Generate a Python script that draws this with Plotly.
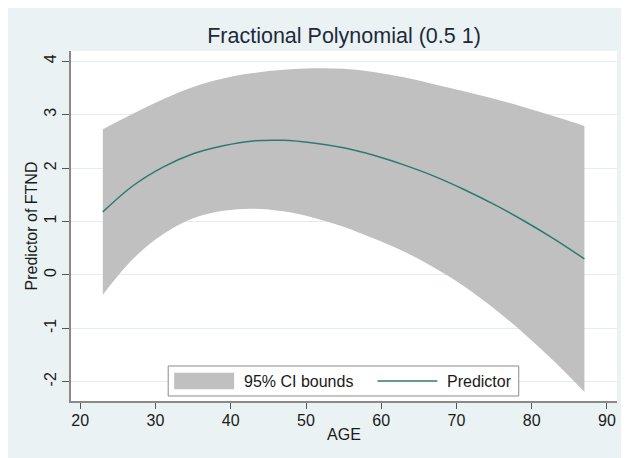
import plotly.graph_objects as go

# Data
age = [23, 27, 31, 35, 39, 43, 47, 51, 55, 59, 63, 67, 71, 75, 79, 83, 87]
predictor = [1.18, 1.67, 2.02, 2.27, 2.42, 2.51, 2.52, 2.47, 2.38, 2.24, 2.06, 1.85, 1.60, 1.32, 1.01, 0.67, 0.30]
ci_upper = [2.73, 3.02, 3.29, 3.52, 3.68, 3.78, 3.84, 3.87, 3.86, 3.80, 3.70, 3.57, 3.44, 3.30, 3.14, 2.97, 2.79]
ci_lower = [-0.37, 0.30, 0.76, 1.06, 1.20, 1.24, 1.19, 1.07, 0.90, 0.68, 0.44, 0.14, -0.21, -0.63, -1.10, -1.62, -2.19]

x_ticks = [20, 30, 40, 50, 60, 70, 80, 90]
y_ticks = [-2, -1, 0, 1, 2, 3, 4]
y_tick_text = ["-2", "-1", "0", "1", "2", "3", "4"]

BG = "#EAF2F3"
GRID = "#E3EDEF"
BAND = "#C0C0C0"
LINE = "#2E7A6E"
AXIS = "#8a8a8a"
FONT = "Liberation Sans, Arial, sans-serif"

fig = go.Figure()
fig.add_trace(go.Scatter(x=age, y=ci_lower, mode="lines",
                         line=dict(width=0, color=BAND, shape="spline", smoothing=1),
                         showlegend=False, hoverinfo="skip"))
fig.add_trace(go.Scatter(x=age, y=ci_upper, mode="lines",
                         line=dict(width=0, color=BAND, shape="spline", smoothing=1),
                         fill="tonexty", fillcolor=BAND, name="95% CI bounds", showlegend=False))
fig.add_trace(go.Scatter(x=age, y=predictor, mode="lines",
                         line=dict(width=1.5, color=LINE, shape="spline", smoothing=1),
                         name="Predictor", showlegend=False))

# Legend drawn as a boxed key inside the plot area (paper coordinates)
legend_shapes = [
    dict(type="rect", xref="paper", yref="paper", x0=0.178, x1=0.820, y0=0.0143, y1=0.100,
         fillcolor="white", line=dict(color="#8a8a8a", width=1), layer="above"),
    dict(type="rect", xref="paper", yref="paper", x0=0.189, x1=0.2988, y0=0.0334, y1=0.0809,
         fillcolor=BAND, line=dict(width=0), layer="above"),
    dict(type="line", xref="paper", yref="paper", x0=0.5613, x1=0.6709, y0=0.0571, y1=0.0571,
         line=dict(color=LINE, width=1.5), layer="above"),
]
legend_labels = [
    dict(text="95% CI bounds", xref="paper", yref="paper", x=0.3135, y=0.0571,
         xanchor="left", yanchor="middle", showarrow=False, font=dict(size=16, color="#1a1a1a")),
    dict(text="Predictor", xref="paper", yref="paper", x=0.6855, y=0.0571,
         xanchor="left", yanchor="middle", showarrow=False, font=dict(size=16, color="#1a1a1a")),
]

fig.update_layout(
    width=629, height=458,
    margin=dict(l=62.7, r=19.7, t=43, b=65, autoexpand=False),
    paper_bgcolor=BG, plot_bgcolor="white",
    font=dict(family=FONT, size=16, color="#1a1a1a"),
    title=dict(text="Fractional Polynomial (0.5 1)", x=0.5, xref="paper", xanchor="center",
               y=1 - 27 / 458, yref="container", yanchor="middle",
               font=dict(size=21.5, color="#1e2a3a")),
    showlegend=False,
    xaxis=dict(range=[18.77, 91.33], tickvals=x_ticks, ticks="outside", ticklen=6,
               tickcolor="#555555", showline=True, linecolor=AXIS, linewidth=1.5,
               showgrid=False, zeroline=False, ticklabelstandoff=-2,
               title=dict(text="AGE", standoff=1, font=dict(size=16))),
    yaxis=dict(range=[-2.361, 4.193], tickvals=y_ticks, ticktext=y_tick_text,
               ticks="outside", ticklen=7,
               tickcolor="#555555", showline=True, linecolor=AXIS, linewidth=1.5,
               showgrid=True, gridcolor=GRID, gridwidth=1, zeroline=False,
               tickangle=-90,
               title=dict(text="Predictor of FTND", standoff=0, font=dict(size=16))),
    shapes=legend_shapes,
    annotations=legend_labels,
)

fig.write_html("out.html")
